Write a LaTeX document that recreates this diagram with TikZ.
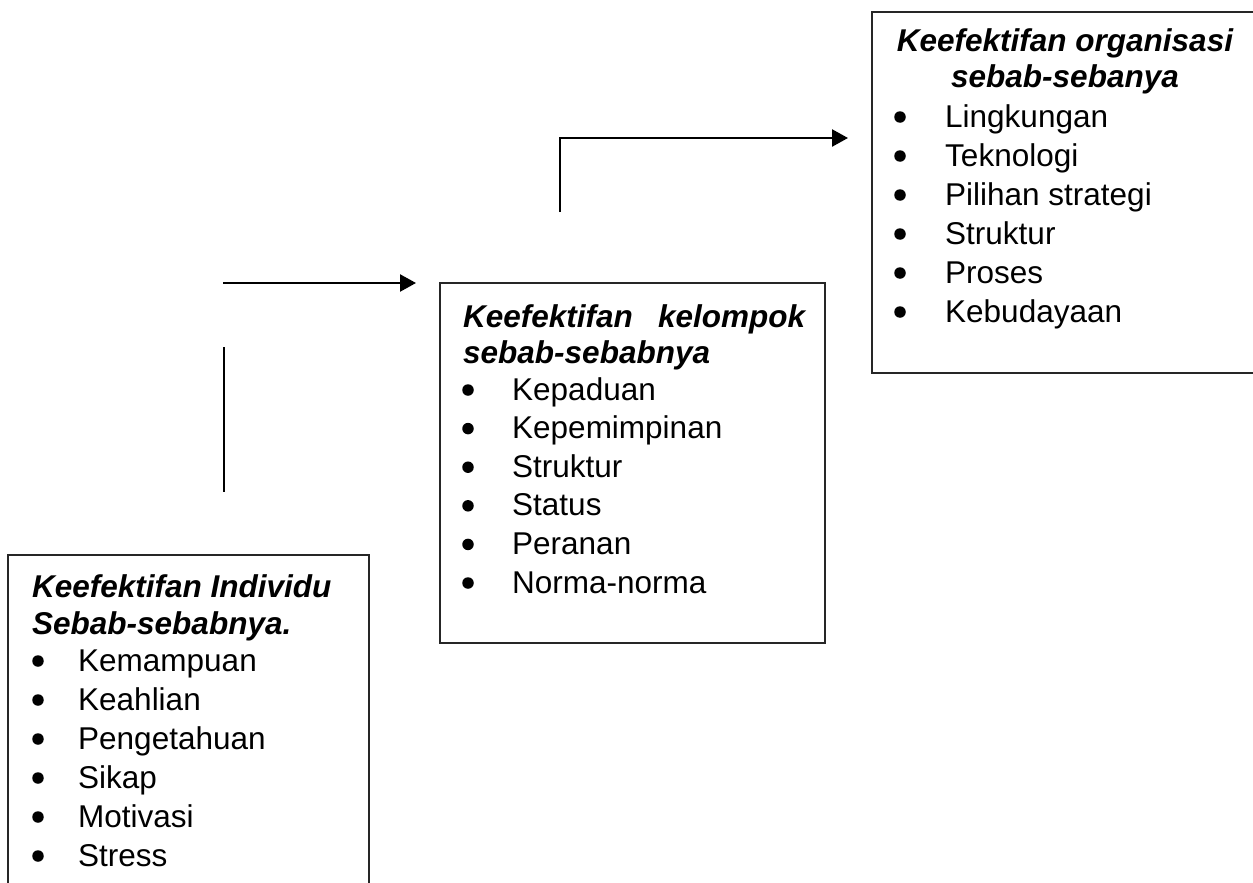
\documentclass[tikz,border=0pt]{standalone}
\usepackage{fontspec}
\setmainfont{Liberation Sans}
\usetikzlibrary{arrows.meta}
\begin{document}
\begin{tikzpicture}[x=1pt,y=-1pt,
  boxstyle/.style={draw=black!85, line width=1.8pt, anchor=north west, inner sep=0pt, outer sep=0pt},
  conn/.style={line width=2.4pt},
  arr/.style={conn, -{Triangle[length=16pt,width=17pt]}},
  ttl/.style={inner sep=0pt, font=\fontsize{31.5}{36}\selectfont\bfseries\itshape},
  itm/.style={anchor=base west, inner sep=0pt, font=\fontsize{31.5}{36}\selectfont},
  bul/.style={circle, fill=black, inner sep=0pt, minimum size=11.5pt}]
\useasboundingbox (0,0) rectangle (1253,883);

% boxes
\node[boxstyle, minimum width=361pt, minimum height=360pt] (box1) at (8,555) {};
\node[boxstyle, minimum width=385pt, minimum height=360pt] (box2) at (440,283) {};
\node[boxstyle, minimum width=420pt, minimum height=361pt] (box3) at (872,12) {};

% box 1 text
\node[ttl, anchor=base west] (t1a) at (32,597) {Keefektifan Individu};
\node[ttl, anchor=base west] (t1b) at (32,634) {Sebab-sebabnya.};
\foreach \t [count=\i] in {Kemampuan,Keahlian,Pengetahuan,Sikap,Motivasi,Stress}{
  \node[bul] (ba\i) at (38,{671+39*(\i-1)-10}) {};
  \node[itm] (ia\i) at (78,{671+39*(\i-1)}) {\t};
}

% box 2 text
\node[ttl, anchor=base west] (t2a) at (463,327) {\hbox to 342pt{Keefektifan\hfill kelompok}};
\node[ttl, anchor=base west] (t2b) at (463,363) {sebab-sebabnya};
\foreach \t [count=\i] in {Kepaduan,Kepemimpinan,Struktur,Status,Peranan,Norma-norma}{
  \node[bul] (bb\i) at (468,{400+38.6*(\i-1)-10}) {};
  \node[itm] (ib\i) at (512,{400+38.6*(\i-1)}) {\t};
}

% box 3 text
\node[ttl, anchor=base] (t3a) at (1065,52) {Keefektifan organisasi};
\node[ttl, anchor=base] (t3b) at (1065,88) {sebab-sebanya};
\foreach \t [count=\i] in {Lingkungan,Teknologi,Pilihan strategi,Struktur,Proses,Kebudayaan}{
  \node[bul] (bc\i) at (900,{127+39*(\i-1)-10}) {};
  \node[itm] (ic\i) at (945,{127+39*(\i-1)}) {\t};
}

% connectors
\coordinate (v1s) at (224,347);
\coordinate (v1e) at (224,492);
\coordinate (h1s) at (223,283);
\coordinate (h1e) at (416,283);
\coordinate (v2s) at (560,212);
\coordinate (v2c) at (560,138);
\coordinate (h2e) at (848,138);
\draw[conn] (v1s) -- (v1e);
\draw[arr] (h1s) -- (h1e);
\draw[arr] (v2s) -- (v2c) -- (h2e);
\end{tikzpicture}
\end{document}
